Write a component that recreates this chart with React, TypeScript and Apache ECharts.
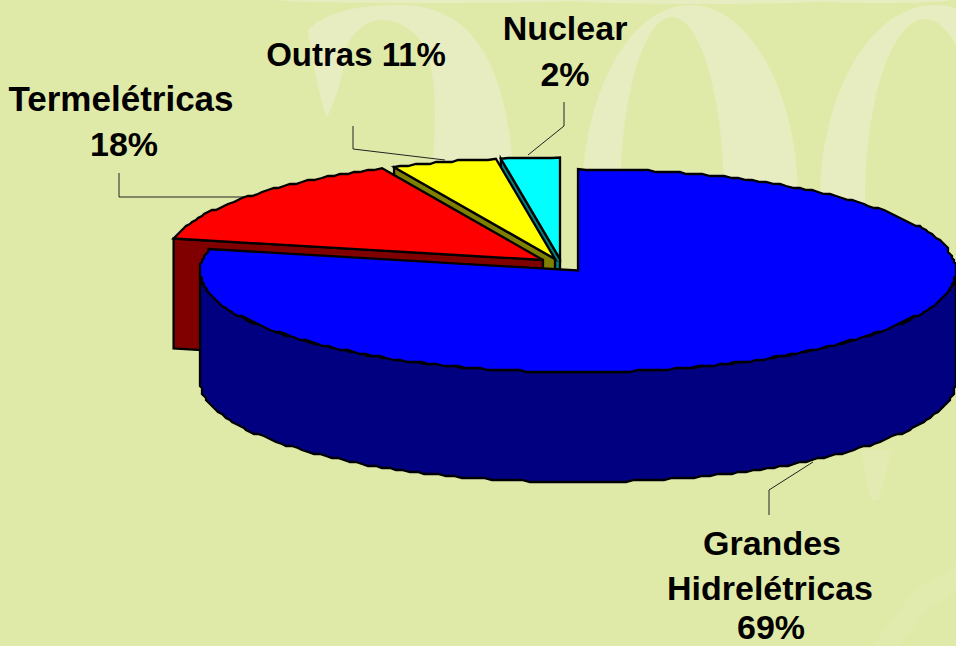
import React, { useEffect, useRef } from "react";
import * as echarts from "echarts";

// Printed labels, as they read on the chart
const labelLines = [
  ["Grandes", "Hidrelétricas", "69%"],
  ["Termelétricas", "18%"],
  ["Outras 11%"],
  ["Nuclear", "2%"],
];
// Share of the drawn circle (%), clockwise from 12 o'clock
const categories = ["Grandes Hidrelétricas", "Termelétricas", "Outras", "Nuclear"];
const drawnShares = [78.4, 14.6, 4.5, 2.5];
const topColors = ["#0000FF", "#FF0000", "#FFFF00", "#00FFFF"];
const wallColors = ["#000080", "#800000", "#808000", "#008080"];

const BG = "#E0EAA8";
const PALE = "#E7EDC0";
const RX = 378;
const RY = 101.5;
const DEPTH = 110;
const APEX = [
  [578, 270.5],
  [543, 260],
  [555, 259],
  [560, 259],
];

const WM2 =
  "M308 30 C330 8 370 5 400 5 C470 5 510 60 514 190 L432 190 C435 120 440 70 420 40 C405 20 380 15 365 25 C350 35 345 45 345 60 C340 90 332 105 327 118 C320 100 312 60 308 30 Z";
echarts.graphic.registerShape("wmTwo", echarts.graphic.extendPath(WM2, {}));

const snap = (v: number) => Math.round(v / 2) * 2;

function renderSlice(params: any, api: any) {
  const i = api.value(0);
  const share = api.value(1);
  const start = api.value(2);
  const [cx, cy] = APEX[i];
  const a0 = (start / 100) * 360;
  const a1 = ((start + share) / 100) * 360;
  const pt = (deg: number, dy = 0): number[] => {
    const r = (deg * Math.PI) / 180;
    return [cx + RX * Math.sin(r), cy - RY * Math.cos(r) + dy];
  };
  const rough = (p: number[]) => [snap(p[0]), snap(p[1])];
  const arc = (from: number, to: number, dy = 0) => {
    const out: number[][] = [];
    const n = Math.max(2, Math.ceil(Math.abs(to - from) / 1.2));
    for (let k = 0; k <= n; k++) {
      const p = pt(from + ((to - from) * k) / n, dy);
      out.push(k === 0 || k === n ? p : rough(p));
    }
    return out;
  };
  const edge = { stroke: "#000", lineWidth: 2.3, lineJoin: "miter" };
  const children: any[] = [];
  // cut face on the left side of the slice (the edge where the slice starts, clockwise)
  if (i !== 0) {
    children.push({
      type: "polygon",
      shape: { points: [[cx, cy], pt(a0), pt(a0, DEPTH), [cx, cy + DEPTH]] },
      style: { fill: wallColors[i], ...edge },
    });
  }
  // outer wall of the front part of the rim
  const wallFrom = Math.max(a0, 90);
  const wallTo = Math.min(a1, 270);
  if (wallTo > wallFrom) {
    children.push({
      type: "polygon",
      shape: { points: [...arc(wallFrom, wallTo), ...arc(wallTo, wallFrom, DEPTH)] },
      style: { fill: wallColors[i], ...edge },
    });
  }
  children.push({
    type: "polygon",
    shape: { points: [[cx, cy], ...arc(a0, a1)] },
    style: { fill: topColors[i], ...edge },
  });
  return { type: "group", children };
}

const FONT = '"Liberation Sans", Arial, sans-serif';
const textEl = (text: string, x: number, y: number, size = 34) => ({
  type: "text",
  z: 5,
  x,
  y,
  style: {
    text,
    fill: "#000",
    font: `bold ${size}px ${FONT}`,
    textAlign: "center",
    textVerticalAlign: "middle",
  },
});
const leader = (points: number[][]) => ({
  type: "polyline",
  z: 1,
  shape: { points },
  style: { stroke: "#222", lineWidth: 1, fill: "none" },
});
const ell = (cx: number, cy: number, rx: number, ry: number, fill: string, z: number) => ({
  type: "ellipse",
  z,
  shape: { cx, cy, rx, ry },
  style: { fill },
});

export default function App() {
  const ref = useRef<HTMLDivElement>(null);
  useEffect(() => {
    document.body.style.margin = "0";
    const chart = echarts.init(ref.current!, undefined, { renderer: "svg" });
    let cum = 0;
    const rows = drawnShares.map((s, i) => {
      const row = { name: categories[i], value: [i, s, cum] };
      cum += s;
      return row;
    });
    chart.setOption({
      animation: false,
      backgroundColor: BG,
      graphic: {
        elements: [
          { type: "wmTwo", z: 0, x: 0, y: 0, style: { fill: PALE } },
          ell(690, 200, 108, 195, PALE, 0),
          ell(672, 200, 52, 183, BG, 0),
          ell(935, 200, 115, 195, PALE, 0),
          ell(925, 200, 60, 181, BG, 0),
          ell(430, 0, 150, 3, PALE, 0),
          ell(700, 0, 130, 4, PALE, 0),
          ell(880, 0, 70, 3, PALE, 0),
          {
            type: "polygon",
            z: 0,
            shape: { points: [[862, 450], [892, 450], [884, 480], [878, 500], [872, 500], [866, 480]] },
            style: { fill: "#E3EBB2" },
          },
          {
            type: "polygon",
            z: 0,
            shape: { points: [[872, 646], [915, 590], [956, 566], [956, 590], [925, 612], [900, 646]] },
            style: { fill: "#E2EBAE" },
          },
          leader([[119, 173], [119, 197], [245, 197]]),
          leader([[353, 126], [353, 149], [445, 160]]),
          leader([[564, 102], [564, 126], [528, 155]]),
          leader([[769, 515], [769, 490], [813, 462]]),
          textEl(labelLines[0][0], 772, 543),
          textEl(labelLines[0][1], 770, 588),
          textEl(labelLines[0][2], 771, 627),
          textEl(labelLines[1][0], 121, 98, 35),
          textEl(labelLines[1][1], 124, 144),
          textEl(labelLines[2][0], 356, 54, 33),
          textEl(labelLines[3][0], 565, 28),
          textEl(labelLines[3][1], 565, 74),
        ],
      },
      series: [
        {
          type: "custom",
          coordinateSystem: "none",
          silent: true,
          z: 3,
          renderItem: renderSlice,
          data: [...rows].reverse(),
        },
      ],
    });
    return () => chart.dispose();
  }, []);
  return <div ref={ref} style={{ position: "absolute", left: 0, top: 0, width: 956, height: 646 }} />;
}
